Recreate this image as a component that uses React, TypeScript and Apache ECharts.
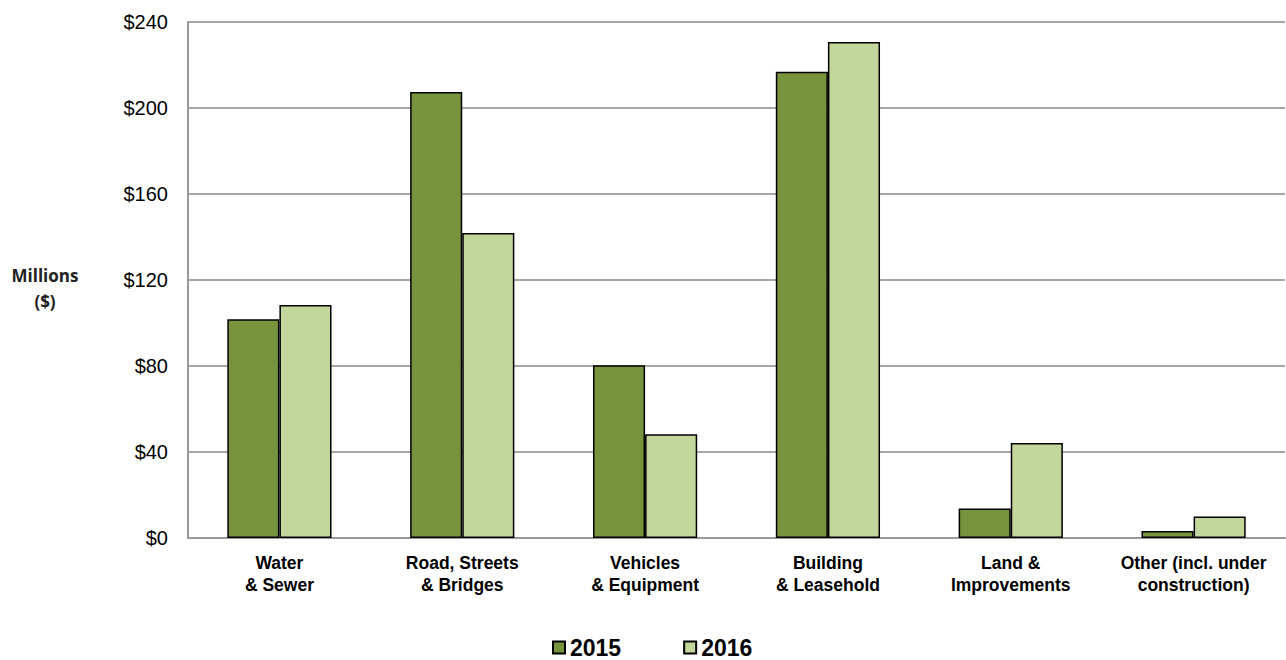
import React, { useEffect, useRef } from "react";
import * as echarts from "echarts";

const categories = [
  "Water\n& Sewer",
  "Road, Streets\n& Bridges",
  "Vehicles\n& Equipment",
  "Building\n& Leasehold",
  "Land &\nImprovements",
  "Other (incl. under\nconstruction)",
];
const values2015 = [101.7, 207.5, 80.4, 216.9, 13.7, 3.3];
const values2016 = [108.4, 141.9, 48.3, 230.7, 44.2, 10.0];
const seriesNames = ["2015", "2016"];
const yTicks = { min: 0, max: 240, interval: 40 };

export default function App() {
  const ref = useRef<HTMLDivElement>(null);
  useEffect(() => {
    if (!ref.current) return;
    const chart = echarts.init(ref.current, null, { renderer: "svg" });
    chart.setOption({
      animation: false,
      backgroundColor: "#ffffff",
      textStyle: { fontFamily: "Liberation Sans, Arial, sans-serif" },
      grid: { left: 188, right: 1, top: 22, bottom: 122, containLabel: false },
      legend: {
        data: seriesNames,
        left: 552,
        top: 636,
        itemWidth: 12,
        itemHeight: 12,
        itemGap: 62,
        padding: 0,
        icon: "rect",
        textStyle: { fontSize: 23, fontWeight: "bold", color: "#000", lineHeight: 21, fontFamily: "Liberation Sans, Arial, sans-serif" },
      },
      xAxis: {
        type: "category",
        data: categories,
        axisLine: { show: true, lineStyle: { color: "#999999", width: 2 } },
        axisTick: { show: false },
        axisLabel: {
          interval: 0,
          margin: 14,
          fontSize: 17.5,
          fontWeight: "bold",
          color: "#000",
          lineHeight: 22,
          fontFamily: "Liberation Sans, Arial, sans-serif",
        },
      },
      yAxis: {
        type: "value",
        min: yTicks.min,
        max: yTicks.max,
        interval: yTicks.interval,
        axisLine: { show: true, lineStyle: { color: "#999999", width: 2 } },
        axisTick: { show: false },
        splitLine: { show: true, lineStyle: { color: "#A6A6A6", width: 2 } },
        axisLabel: {
          formatter: (v: number) => "$" + v,
          fontSize: 20,
          color: "#000",
          margin: 20,
          fontFamily: "Liberation Sans, Arial, sans-serif",
        },
      },
      graphic: [
        {
          type: "text",
          x: 45,
          y: 262,
          style: {
            text: "Millions\n($)",
            fontSize: 17,
            fontWeight: "bold",
            lineHeight: 26,
            textAlign: "center",
            fill: "#222",
            fontFamily: "Open Sans, sans-serif",
          },
        },
      ],
      series: [
        {
          name: seriesNames[0],
          type: "bar",
          data: values2015,
          barWidth: "28.5%",
          barGap: "0%",
          itemStyle: { color: "#77933C", borderColor: "#000", borderWidth: 1.5 },
        },
        {
          name: seriesNames[1],
          type: "bar",
          data: values2016,
          barWidth: "28.5%",
          barGap: "0%",
          itemStyle: { color: "#C3D69B", borderColor: "#000", borderWidth: 1.5 },
        },
      ],
    });
    return () => chart.dispose();
  }, []);
  return (
    <div
      ref={ref}
      style={{ position: "absolute", left: 0, top: 0, width: 1286, height: 660 }}
    />
  );
}
